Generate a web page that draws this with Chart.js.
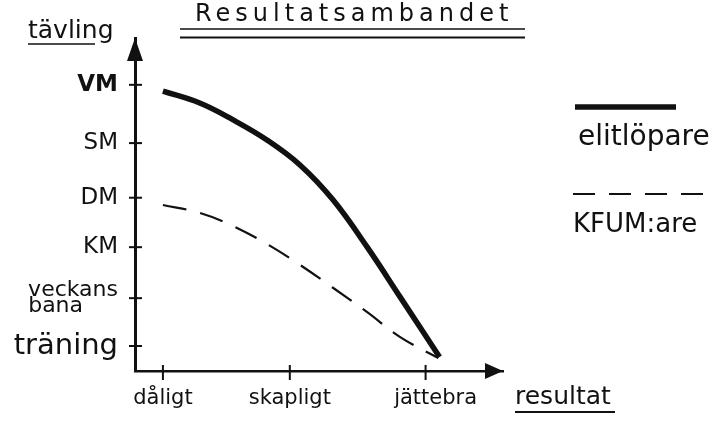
<!DOCTYPE html>
<html><head><meta charset="utf-8">
<script src="https://cdn.jsdelivr.net/npm/chart.js@4"></script>
<style>html,body{margin:0;padding:0;background:#fff}</style>
</head><body>
<canvas id="c" width="716" height="424" style="width:716px;height:424px;display:block"></canvas>
<script>
const chartTitle = 'Resultatsambandet';
const yAxisTitle = 'tävling';
const xAxisTitle = 'resultat';
const levelLabels = ['träning', ['veckans', 'bana     '], 'KM', 'DM', 'SM', 'VM'];
const levelPos = [1, 1.92, 2.90, 3.85, 4.90, 6.02];
const resultLabels = ['dåligt', 'skapligt', '   jättebra'];
const resultPos = [1, 2, 3.07];
const eliteX = [1.0, 1.29, 1.55, 1.82, 2.08, 2.34, 2.61, 2.87, 3.18];
const eliteY = [5.90, 5.67, 5.35, 4.96, 4.48, 3.81, 2.90, 1.94, 0.79];
const kfumX = [1.0, 1.29, 1.55, 1.82, 2.08, 2.34, 2.61, 2.87, 3.17];
const kfumY = [3.71, 3.56, 3.31, 2.96, 2.56, 2.12, 1.65, 1.17, 0.77];
const seriesNames = ['elitlöpare', 'KFUM:are'];

const FONT = "'DejaVu Sans', sans-serif";
const INK = '#111';

const toPts = (xs, ys) => xs.map((x, i) => ({x: x, y: ys[i]}));

const sketchPlugin = {
  id: 'sketch',
  afterDraw(chart) {
    const ctx = chart.ctx;
    const a = chart.chartArea;
    const xs = chart.scales.x, ys = chart.scales.y;
    ctx.save();
    ctx.fillStyle = INK; ctx.strokeStyle = INK;
    // title
    ctx.font = '24px ' + FONT;
    ctx.textAlign = 'left'; ctx.textBaseline = 'alphabetic';
    try { ctx.letterSpacing = '5px'; } catch (e) {}
    ctx.fillText(chartTitle, 195, 21);
    try { ctx.letterSpacing = '0px'; } catch (e) {}
    ctx.lineWidth = 1.5;
    ctx.beginPath(); ctx.moveTo(180, 29); ctx.lineTo(525, 29); ctx.stroke();
    ctx.lineWidth = 2.2;
    ctx.beginPath(); ctx.moveTo(180, 37.5); ctx.lineTo(525, 37.5); ctx.stroke();
    // arrowheads
    ctx.beginPath();
    ctx.moveTo(a.left, a.top); ctx.lineTo(a.left - 8, a.top + 23); ctx.lineTo(a.left + 8, a.top + 23); ctx.closePath(); ctx.fill();
    ctx.beginPath();
    ctx.moveTo(a.right, a.bottom); ctx.lineTo(a.right - 18, a.bottom - 8); ctx.lineTo(a.right - 18, a.bottom + 8); ctx.closePath(); ctx.fill();
    // tick crosses
    ctx.lineWidth = 2;
    levelPos.forEach(v => {
      const py = ys.getPixelForValue(v);
      ctx.beginPath(); ctx.moveTo(a.left - 6, py); ctx.lineTo(a.left + 7, py); ctx.stroke();
    });
    resultPos.forEach(v => {
      const px = xs.getPixelForValue(v);
      ctx.beginPath(); ctx.moveTo(px, a.bottom - 6); ctx.lineTo(px, a.bottom + 9); ctx.stroke();
    });
    // axis titles
    ctx.font = '25px ' + FONT; ctx.textAlign = 'left';
    ctx.fillText(yAxisTitle, 28, 38);
    ctx.lineWidth = 1.5;
    ctx.beginPath(); ctx.moveTo(28, 44); ctx.lineTo(95, 44); ctx.stroke();
    ctx.font = '25px ' + FONT;
    ctx.fillText(xAxisTitle, 515, 404);
    ctx.lineWidth = 2;
    ctx.beginPath(); ctx.moveTo(515, 412); ctx.lineTo(615, 412); ctx.stroke();
    // legend
    const ds = chart.data.datasets;
    ctx.lineWidth = ds[0].borderWidth; ctx.strokeStyle = ds[0].borderColor;
    ctx.beginPath(); ctx.moveTo(575, 107); ctx.lineTo(676, 107); ctx.stroke();
    ctx.font = '28px ' + FONT;
    ctx.fillText(seriesNames[0], 578, 145);
    ctx.lineWidth = ds[1].borderWidth; ctx.setLineDash([22, 14]);
    ctx.beginPath(); ctx.moveTo(573, 194); ctx.lineTo(708, 194); ctx.stroke();
    ctx.setLineDash([]);
    ctx.font = '26px ' + FONT;
    ctx.fillText(seriesNames[1], 573, 232);
    ctx.restore();
  }
};

new Chart(document.getElementById('c'), {
  type: 'line',
  data: {
    datasets: [
      {label: seriesNames[0], data: toPts(eliteX, eliteY), borderColor: INK, borderWidth: 5.5,
       pointRadius: 0, tension: 0.4, fill: false},
      {label: seriesNames[1], data: toPts(kfumX, kfumY), borderColor: INK, borderWidth: 2.2,
       borderDash: [24, 14], pointRadius: 0, tension: 0.4, fill: false}
    ]
  },
  options: {
    responsive: false, animation: false, devicePixelRatio: 1,
    layout: {padding: {top: 38, right: 213, left: 0, bottom: 0}},
    plugins: {legend: {display: false}, title: {display: false}, tooltip: {enabled: false}},
    scales: {
      x: {
        type: 'linear', min: 0.78, max: 3.68,
        afterFit(s) { s.height = 53; },
        afterBuildTicks(s) { s.ticks = resultPos.map(v => ({value: v})); },
        grid: {display: false, drawTicks: false},
        border: {display: true, color: INK, width: 2.5},
        ticks: {
          padding: 15, color: INK, font: {family: FONT, size: 21}, maxRotation: 0, autoSkip: false,
          callback: (v) => { const i = resultPos.indexOf(v); return i >= 0 ? resultLabels[i] : ''; }
        }
      },
      y: {
        type: 'linear', min: 0.52, max: 6.92,
        afterFit(s) { s.width = 135; },
        afterBuildTicks(s) { s.ticks = levelPos.map(v => ({value: v})); },
        grid: {display: false, drawTicks: false},
        border: {display: true, color: INK, width: 3},
        ticks: {
          padding: 17, color: INK, autoSkip: false,
          font: (c) => {
            const v = c.tick ? c.tick.value : null;
            if (v === levelPos[5]) return {family: FONT, size: 23, weight: 'bold'};
            if (v === levelPos[1]) return {family: FONT, size: 22, lineHeight: 0.7};
            if (v === levelPos[0]) return {family: FONT, size: 29};
            return {family: FONT, size: 23};
          },
          callback: (v) => { const i = levelPos.indexOf(v); return i >= 0 ? levelLabels[i] : ''; }
        }
      }
    }
  },
  plugins: [sketchPlugin]
});
</script>
</body></html>
